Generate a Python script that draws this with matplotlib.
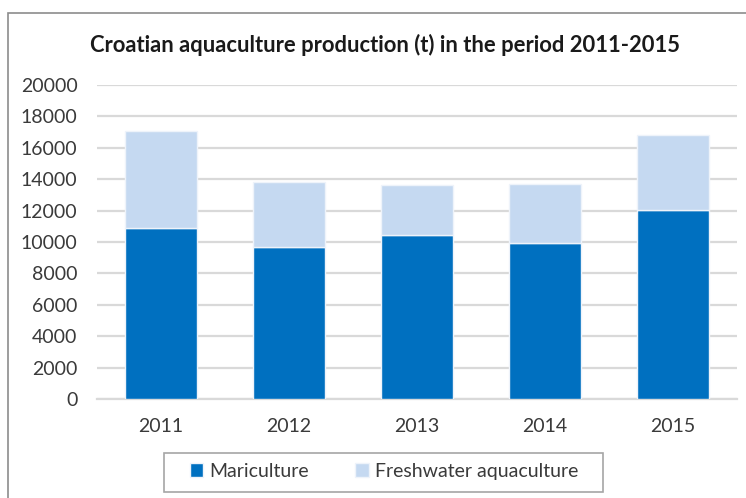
import matplotlib.pyplot as plt
from matplotlib.patches import Rectangle

years = ['2011', '2012', '2013', '2014', '2015']
mariculture = [10870, 9660, 10465, 9920, 12040]
freshwater = [6220, 4140, 3165, 3770, 4775]
y_ticks = [0, 2000, 4000, 6000, 8000, 10000, 12000, 14000, 16000, 18000, 20000]

plt.rcParams['font.family'] = ['Lato', 'DejaVu Sans']

fig = plt.figure(figsize=(7.46, 4.98), dpi=100)
ax = fig.add_axes([97 / 746, 1 - 399 / 498, 640 / 746, 314 / 498])

color_mari = '#0070C0'
color_fresh = '#C5D9F1'
text_col = '#3A3A3A'

x = range(len(years))
ax.bar(x, mariculture, width=0.56, color=color_mari, edgecolor='#EEF3FA',
       linewidth=1, label='Mariculture', zorder=3)
ax.bar(x, freshwater, width=0.56, bottom=mariculture, color=color_fresh,
       edgecolor='#EEF3FA', linewidth=1, label='Freshwater aquaculture', zorder=3)

ax.set_xlim(-0.5, 4.5)
ax.set_ylim(0, 20000)
ax.set_yticks(y_ticks)
ax.set_xticks(list(x))
ax.set_xticklabels(years)
ax.grid(axis='y', color='#D9D9D9', linewidth=1.6, zorder=0)
for side in ['top', 'right', 'left']:
    ax.spines[side].set_visible(False)
ax.spines['bottom'].set_color('#D9D9D9')
ax.spines['bottom'].set_linewidth(1.6)
ax.tick_params(axis='both', length=0, labelsize=14, labelcolor=text_col)
ax.tick_params(axis='y', pad=14)
ax.tick_params(axis='x', pad=14)

fig.text(385 / 746, 1 - 45 / 498, 'Croatian aquaculture production (t) in the period 2011-2015',
         ha='center', va='center', fontsize=15.8, fontweight='bold', color='#1a1a1a')

leg = fig.legend(loc='center', bbox_to_anchor=(384 / 746, 1 - 471 / 498), ncol=2,
                 fontsize=14, frameon=False,
                 handlelength=0.7, handleheight=0.7, columnspacing=2.4,
                 handletextpad=0.3, borderaxespad=0)
for t in leg.get_texts():
    t.set_color(text_col)

# legend box, drawn by hand so it can be wider than it is tall
fig.patches.append(Rectangle((164 / 746, 1 - 492 / 498), 439 / 746, 39 / 498,
                             transform=fig.transFigure, fill=False,
                             edgecolor='#A6A6A6', linewidth=1.2))

# outer chart border
fig.patches.append(Rectangle((8 / 746, -0.05), 1.1, 1 - 13 / 498 + 0.05,
                             transform=fig.transFigure, fill=False,
                             edgecolor='#8C8C8C', linewidth=1.2))

fig.savefig('out.png', dpi=100)
